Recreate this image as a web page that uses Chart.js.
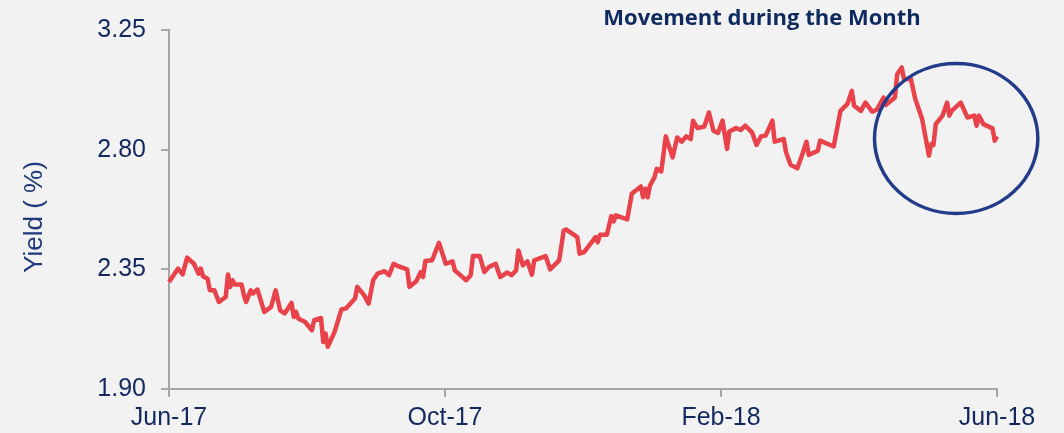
<!DOCTYPE html>
<html>
<head>
<meta charset="utf-8">
<script src="https://cdn.jsdelivr.net/npm/chart.js@4.4.1/dist/chart.umd.min.js"></script>
<style>
  body { margin: 0; background: #F2F2F2; }
  #wrap { width: 1064px; height: 433px; position: relative; }
</style>
</head>
<body>
<div id="wrap"><canvas id="yieldchart"></canvas></div>
<script>
// days counted from 1 Jun 2017
const days = [
  0, 4, 6, 8, 11, 13, 14, 15, 17, 18,
  20, 22, 25, 26, 27, 28, 29, 32, 33, 34,
  36, 37, 39, 42, 45, 47, 49, 51, 54, 55,
  56, 57, 60, 63, 64, 67, 68, 69, 70, 73,
  76, 78, 82, 83, 86, 88, 90, 92, 95, 97,
  99, 101, 105, 106, 109, 111, 112, 113, 116, 119,
  122, 125, 126, 131, 133, 134, 137, 139, 141, 144,
  146, 149, 151, 153, 154, 156, 158, 160, 161, 166,
  168, 172, 174, 175, 180, 181, 183, 188, 189, 190,
  193, 195, 196, 197, 202, 204, 208, 209, 210, 211,
  212, 214, 215, 217, 219, 222, 224, 226, 228, 230,
  231, 233, 236, 238, 240, 242, 244, 246, 247, 250,
  252, 254, 257, 259, 261, 263, 266, 267, 271, 272,
  274, 277, 279, 281, 282, 286, 287, 293, 296, 299,
  301, 302, 305, 307, 310, 312, 315, 316, 320, 321,
  323, 324, 327, 329, 332, 335, 336, 337, 338, 341,
  343, 344, 345, 349, 352, 355, 356, 357, 359, 363,
  364, 365
];

const yields = [
  2.302, 2.353, 2.331, 2.394, 2.371, 2.334, 2.353, 2.324, 2.315, 2.271,
  2.271, 2.227, 2.246, 2.331, 2.284, 2.309, 2.293, 2.293, 2.253, 2.227,
  2.271, 2.259, 2.274, 2.190, 2.209, 2.271, 2.196, 2.184, 2.224, 2.171,
  2.190, 2.165, 2.152, 2.121, 2.159, 2.167, 2.077, 2.109, 2.059, 2.115,
  2.199, 2.203, 2.240, 2.284, 2.253, 2.221, 2.309, 2.334, 2.343, 2.328,
  2.371, 2.362, 2.350, 2.284, 2.305, 2.340, 2.321, 2.381, 2.384, 2.450,
  2.371, 2.380, 2.346, 2.309, 2.328, 2.400, 2.400, 2.340, 2.359, 2.371,
  2.321, 2.338, 2.328, 2.346, 2.421, 2.365, 2.380, 2.330, 2.384, 2.400,
  2.350, 2.384, 2.496, 2.500, 2.471, 2.409, 2.415, 2.471, 2.452, 2.480,
  2.480, 2.550, 2.530, 2.553, 2.538, 2.634, 2.662, 2.621, 2.653, 2.621,
  2.665, 2.696, 2.728, 2.718, 2.850, 2.771, 2.846, 2.830, 2.850, 2.840,
  2.909, 2.881, 2.887, 2.940, 2.871, 2.863, 2.909, 2.803, 2.868, 2.881,
  2.874, 2.890, 2.865, 2.818, 2.850, 2.853, 2.909, 2.830, 2.840, 2.790,
  2.743, 2.730, 2.778, 2.830, 2.780, 2.796, 2.834, 2.812, 2.946, 2.971,
  3.021, 2.965, 2.946, 2.977, 2.943, 2.950, 2.996, 2.968, 2.996, 3.084,
  3.109, 3.065, 3.067, 2.990, 2.915, 2.778, 2.821, 2.818, 2.896, 2.928,
  2.977, 2.928, 2.946, 2.977, 2.921, 2.928, 2.890, 2.928, 2.896, 2.880,
  2.834, 2.850
];

const monthLabels = ['Jun-17', 'Oct-17', 'Feb-18', 'Jun-18'];
const yTicks = [1.90, 2.35, 2.80, 3.25];

// circled area, in data units (days / yield)
const highlight = { from: 311, to: 383, high: 3.124, low: 2.56 };

const navy = '#13285E';
const axisGrey = '#A6A6A6';

const extras = {
    id: 'extras',
    afterDatasetsDraw(chart) {
        const c = chart.ctx;
        const xs = chart.scales.x, ys = chart.scales.y;
        const x1 = xs.getPixelForValue(highlight.from), x2 = xs.getPixelForValue(highlight.to);
        const y1 = ys.getPixelForValue(highlight.high), y2 = ys.getPixelForValue(highlight.low);
        c.save();
        c.beginPath();
        c.ellipse((x1 + x2) / 2, (y1 + y2) / 2, (x2 - x1) / 2, (y2 - y1) / 2, 0, 0, Math.PI * 2);
        c.strokeStyle = '#233C8A';
        c.lineWidth = 3.5;
        c.stroke();
        // heading
        c.fillStyle = '#0F2A5F';
        c.font = 'bold 22px "Open Sans"';
        c.textAlign = 'center';
        c.textBaseline = 'middle';
        c.fillText('Movement during the Month', 762, 19);
        // axis title
        c.translate(35, 217);
        c.rotate(-Math.PI / 2);
        c.fillStyle = '#1F3A7A';
        c.font = '26px "Liberation Sans", Arial';
        c.fillText('Yield ( %)', 0, 0);
        c.restore();
    }
};

const ctx = document.getElementById('yieldchart').getContext('2d');
const yieldchart = new Chart(ctx, {
    type: 'line',
    data: {
        datasets: [{
            label: 'Yield',
            data: days.map((d, i) => ({ x: d, y: yields[i] })),
            borderColor: '#E8424A',
            borderWidth: 4.5,
            pointRadius: 0,
            tension: 0,
            borderJoinStyle: 'round',
            clip: false
        }]
    },
    options: {
        responsive: true,
        maintainAspectRatio: false,
        animation: false,
        layout: { padding: { top: 29, right: 67, bottom: 0, left: 0 } },
        plugins: { legend: { display: false }, tooltip: { enabled: false } },
        scales: {
            x: {
                type: 'linear',
                min: 0,
                max: 365,
                afterBuildTicks(scale) {
                    scale.ticks = monthLabels.map((l, i) => ({ value: 365 * i / (monthLabels.length - 1) }));
                },
                afterFit(scale) { scale.height = 44; },
                ticks: {
                    autoSkip: false,
                    maxRotation: 0,
                    padding: 6,
                    color: navy,
                    font: { family: '"Liberation Sans", Arial', size: 25 },
                    callback: (v, i) => monthLabels[i]
                },
                grid: { drawOnChartArea: false, tickLength: 8, color: axisGrey, lineWidth: 2 },
                border: { color: axisGrey, width: 2 }
            },
            y: {
                min: 1.90,
                max: 3.25,
                afterBuildTicks(scale) {
                    scale.ticks = yTicks.map(v => ({ value: v }));
                },
                afterFit(scale) { scale.width = 169; },
                ticks: {
                    padding: 15,
                    color: navy,
                    font: { family: '"Liberation Sans", Arial', size: 25 },
                    callback: v => v.toFixed(2)
                },
                grid: { drawOnChartArea: false, tickLength: 8, color: axisGrey, lineWidth: 2 },
                border: { color: axisGrey, width: 2 }
            }
        }
    },
    plugins: [extras]
});
</script>
</body>
</html>
